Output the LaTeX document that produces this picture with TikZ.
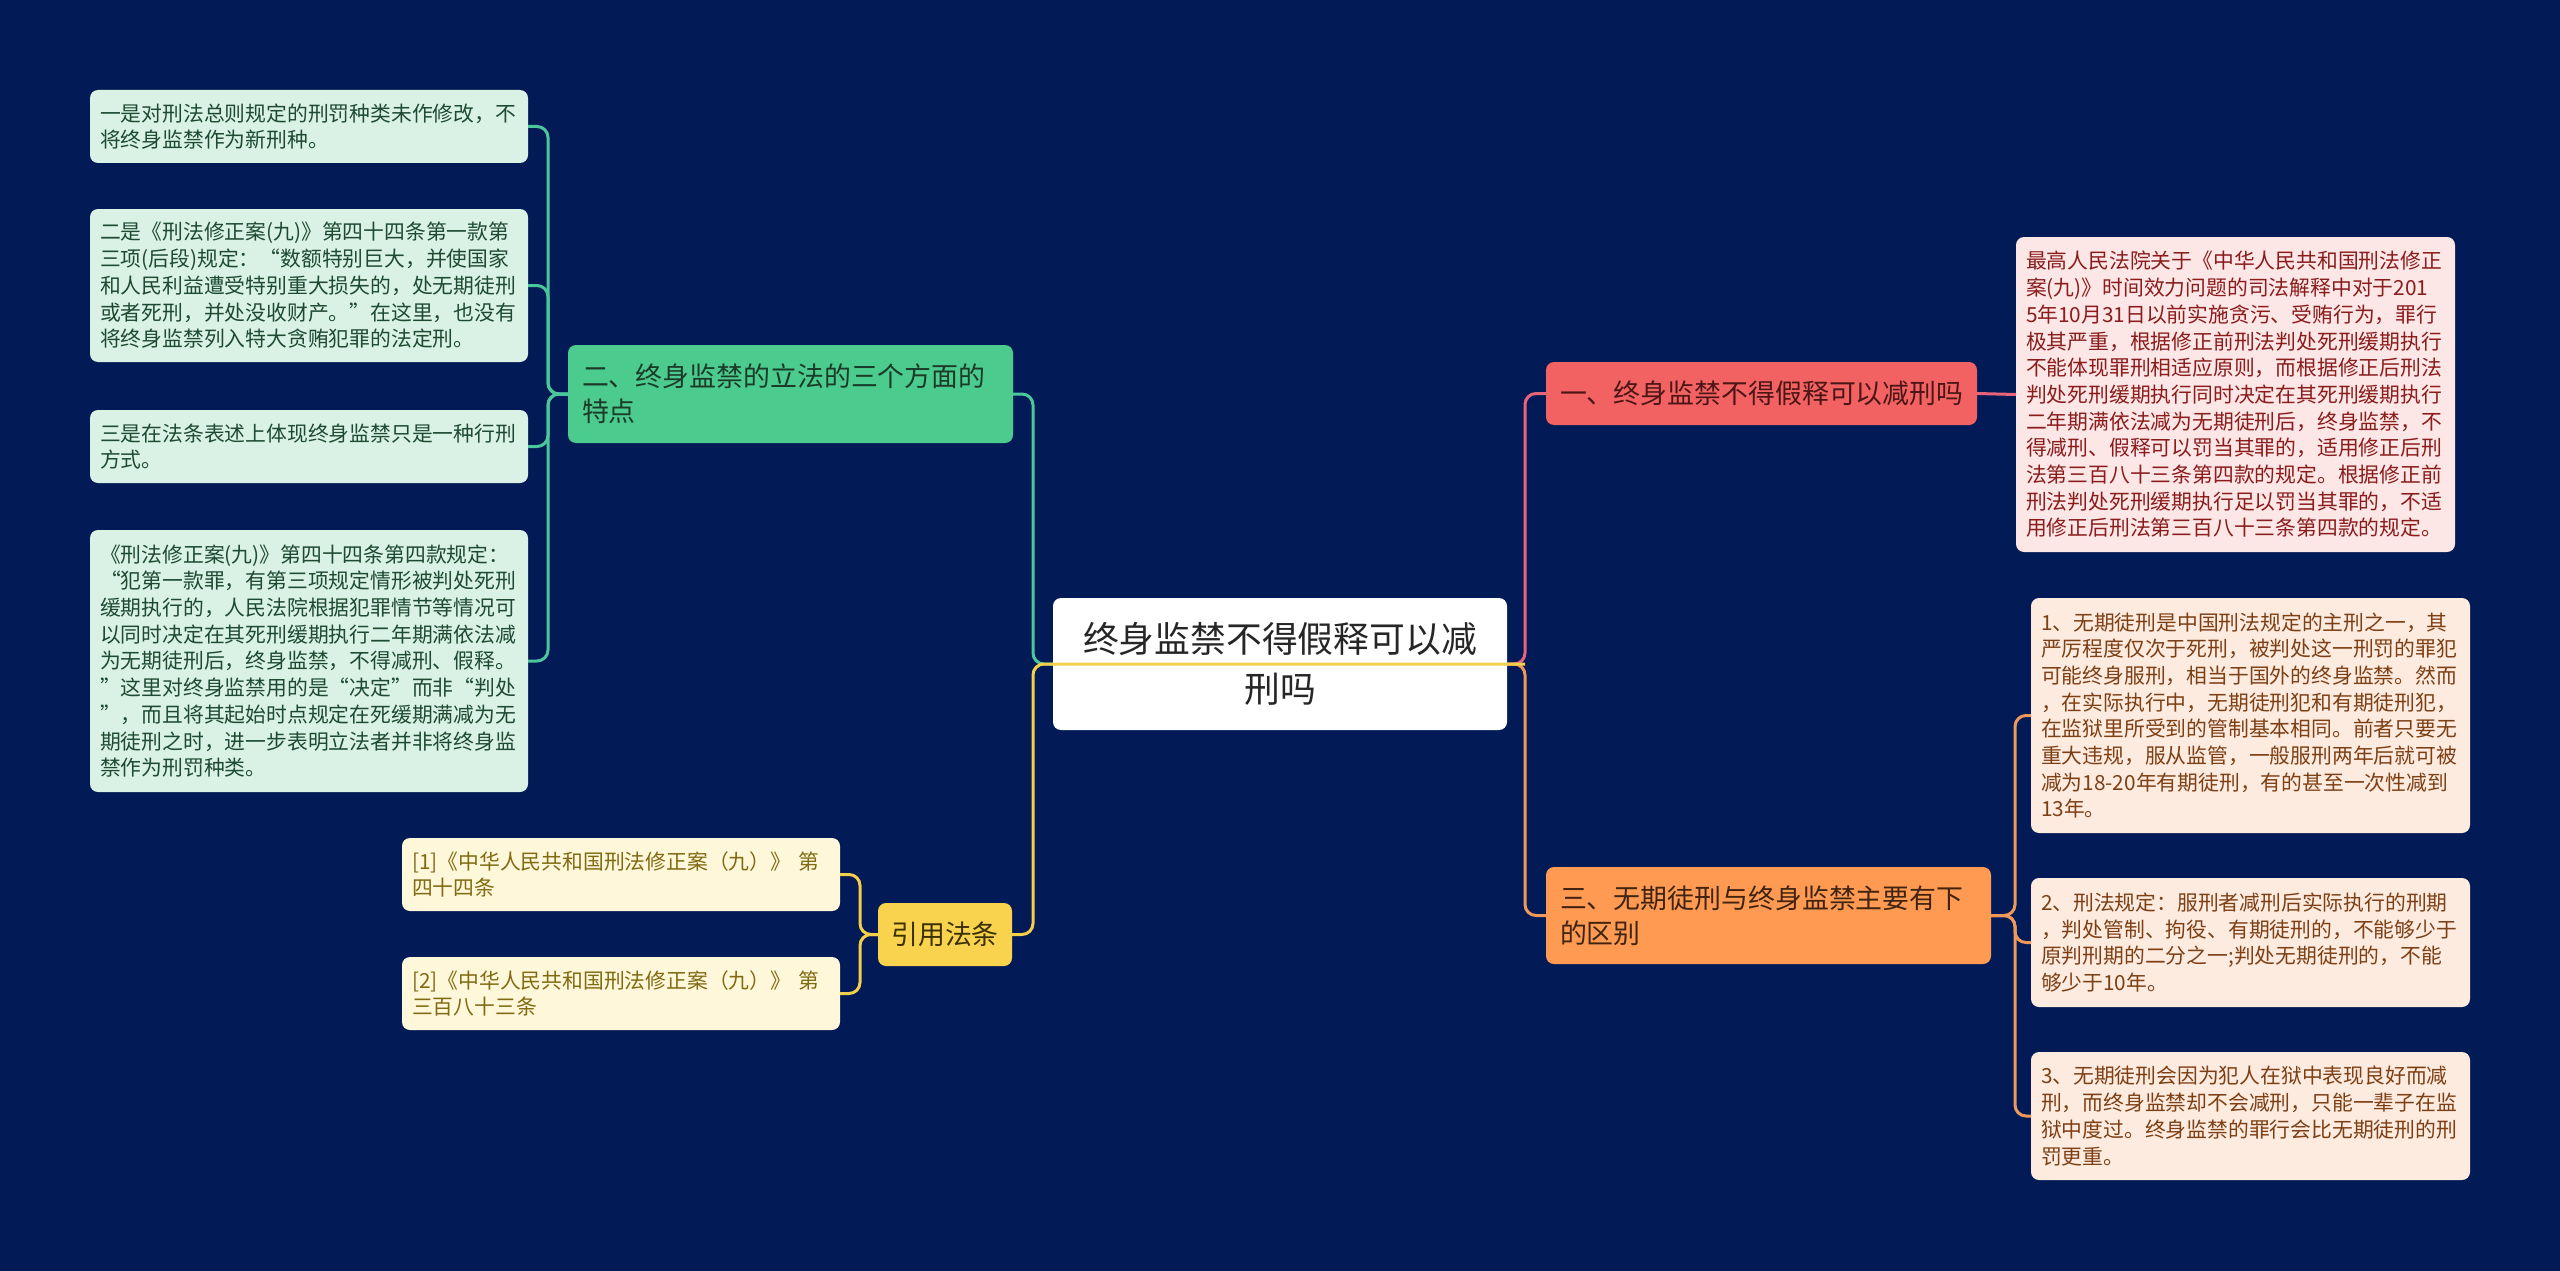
\documentclass[tikz,border=0pt]{standalone}
\usepackage{fontspec}
\setmainfont{Noto Sans CJK SC}
\definecolor{bgc}{HTML}{021A55}
\definecolor{gleafc}{HTML}{D9F2E5}
\definecolor{gtextc}{HTML}{1E4A32}
\definecolor{gnodec}{HTML}{4CCB8E}
\definecolor{gntextc}{HTML}{1B3A28}
\definecolor{glinec}{HTML}{4CC79B}
\definecolor{rnodec}{HTML}{F26262}
\definecolor{rntextc}{HTML}{4D1616}
\definecolor{rleafc}{HTML}{FDE6E6}
\definecolor{rtextc}{HTML}{8A1C1C}
\definecolor{rlinec}{HTML}{E8647A}
\definecolor{onodec}{HTML}{FF9A52}
\definecolor{ontextc}{HTML}{402410}
\definecolor{oleafc}{HTML}{FDEBE0}
\definecolor{otextc}{HTML}{7D3F14}
\definecolor{olinec}{HTML}{F0975A}
\definecolor{ynodec}{HTML}{F9D24E}
\definecolor{yntextc}{HTML}{3A3000}
\definecolor{yleafc}{HTML}{FEF7D9}
\definecolor{ytextc}{HTML}{806A12}
\definecolor{ylinec}{HTML}{F3CF4A}
\tikzset{
  box/.style={anchor=north west, rounded corners=8pt, outer sep=0pt, inner ysep=0pt},
  leaf/.style={box, inner xsep=10pt, align=left, font=\fontsize{20.8}{26.7}\selectfont},
  gleaf/.style={leaf, fill=gleafc, text=gtextc, minimum width=438pt, text width=418pt},
  yleaf/.style={leaf, fill=yleafc, text=ytextc, minimum width=438pt, text width=418pt},
  rleaf/.style={leaf, fill=rleafc, text=rtextc, minimum width=439pt, text width=419pt},
  oleaf/.style={leaf, fill=oleafc, text=otextc, minimum width=439pt, text width=419pt},
  branch/.style={box, inner xsep=14pt, align=left, font=\fontsize{26.9}{35}\selectfont},
  conn/.style={line width=3pt, rounded corners=11pt}
}
\begin{document}
\begin{tikzpicture}[x=1pt,y=-1pt]
\fill[bgc] (0,0) rectangle (2560,1271);
\useasboundingbox (0,0) rectangle (2560,1271);

% root
\node[box, fill=white, text=black!85, align=center, minimum width=454pt, minimum height=132pt, text width=430pt, inner xsep=12pt, font=\fontsize{35.8}{50}\selectfont] (root) at (1053,598) {终身监禁不得假释可以减\\刑吗};

% green branch
\node[branch, fill=gnodec, text=gntextc, minimum width=445pt, minimum height=98pt, text width=417pt] (gn) at (568,345) {二、终身监禁的立法的三个方面的\\特点};
\node[gleaf, minimum height=73pt] (gl1) at (90,90) {一是对刑法总则规定的刑罚种类未作修改，不\\将终身监禁作为新刑种。};
\node[gleaf, minimum height=153pt] (gl2) at (90,209) {二是《刑法修正案(九)》第四十四条第一款第\\三项(后段)规定：“数额特别巨大，并使国家\\和人民利益遭受特别重大损失的，处无期徒刑\\或者死刑，并处没收财产。”在这里，也没有\\将终身监禁列入特大贪贿犯罪的法定刑。};
\node[gleaf, minimum height=73pt] (gl3) at (90,410) {三是在法条表述上体现终身监禁只是一种行刑\\方式。};
\node[gleaf, minimum height=262pt] (gl4) at (90,530) {《刑法修正案(九)》第四十四条第四款规定：\\“犯第一款罪，有第三项规定情形被判处死刑\\缓期执行的，人民法院根据犯罪情节等情况可\\以同时决定在其死刑缓期执行二年期满依法减\\为无期徒刑后，终身监禁，不得减刑、假释。\\”这里对终身监禁用的是“决定”而非“判处\\”，而且将其起始时点规定在死缓期满减为无\\期徒刑之时，进一步表明立法者并非将终身监\\禁作为刑罚种类。};

% yellow branch
\node[branch, fill=ynodec, text=yntextc, minimum width=134pt, minimum height=63pt, align=center, inner xsep=10pt] (yn) at (878,903) {引用法条};
\node[yleaf, minimum height=73pt] (yl1) at (402,838) {[1]《中华人民共和国刑法修正案（九）》 第\\四十四条};
\node[yleaf, minimum height=73pt] (yl2) at (402,957) {[2]《中华人民共和国刑法修正案（九）》 第\\三百八十三条};

% red branch
\node[branch, fill=rnodec, text=rntextc, minimum width=431pt, minimum height=63pt, text width=403pt] (rn) at (1546,362) {一、终身监禁不得假释可以减刑吗};
\node[rleaf, minimum height=315pt] (rl) at (2016,237) {最高人民法院关于《中华人民共和国刑法修正\\案(九)》时间效力问题的司法解释中对于201\\5年10月31日以前实施贪污、受贿行为，罪行\\极其严重，根据修正前刑法判处死刑缓期执行\\不能体现罪刑相适应原则，而根据修正后刑法\\判处死刑缓期执行同时决定在其死刑缓期执行\\二年期满依法减为无期徒刑后，终身监禁，不\\得减刑、假释可以罚当其罪的，适用修正后刑\\法第三百八十三条第四款的规定。根据修正前\\刑法判处死刑缓期执行足以罚当其罪的，不适\\用修正后刑法第三百八十三条第四款的规定。};

% orange branch
\node[branch, fill=onodec, text=ontextc, minimum width=445pt, minimum height=97pt, text width=417pt] (on) at (1546,867) {三、无期徒刑与终身监禁主要有下\\的区别};
\node[oleaf, minimum height=235pt] (ol1) at (2031,598) {1、无期徒刑是中国刑法规定的主刑之一，其\\严厉程度仅次于死刑，被判处这一刑罚的罪犯\\可能终身服刑，相当于国外的终身监禁。然而\\，在实际执行中，无期徒刑犯和有期徒刑犯，\\在监狱里所受到的管制基本相同。前者只要无\\重大违规，服从监管，一般服刑两年后就可被\\减为18-20年有期徒刑，有的甚至一次性减到\\13年。};
\node[oleaf, minimum height=129pt] (ol2) at (2031,878) {2、刑法规定：服刑者减刑后实际执行的刑期\\，判处管制、拘役、有期徒刑的，不能够少于\\原判刑期的二分之一;判处无期徒刑的，不能\\够少于10年。};
\node[oleaf, minimum height=128pt] (ol3) at (2031,1052) {3、无期徒刑会因为犯人在狱中表现良好而减\\刑，而终身监禁却不会减刑，只能一辈子在监\\狱中度过。终身监禁的罪行会比无期徒刑的刑\\罚更重。};

% junction coordinates
\coordinate (lj) at (1033,664);
\coordinate (rj) at (1525,664);

% connectors
\draw[conn, glinec] (root.west) -- (lj) |- (gn.east);
\foreach \n in {gl1,gl2,gl3,gl4} {
  \draw[conn, glinec] (gn.west) -- ++(-20,0) |- (\n.east);
}
\draw[conn, rlinec] (root.east) -- (rj) |- (rn.west);
\draw[conn, rlinec] (rn.east) -- (rl.west);
\draw[conn, olinec] (root.east) -- (rj) |- (on.west);
\foreach \n in {ol1,ol2,ol3} {
  \draw[conn, olinec] (on.east) -- ++(24,0) |- (\n.west);
}
\foreach \n in {yl1,yl2} {
  \draw[conn, ylinec] (yn.west) -- ++(-18,0) |- (\n.east);
}
\draw[conn, ylinec] (rj) -- (lj) |- (yn.east);
\end{tikzpicture}
\end{document}
